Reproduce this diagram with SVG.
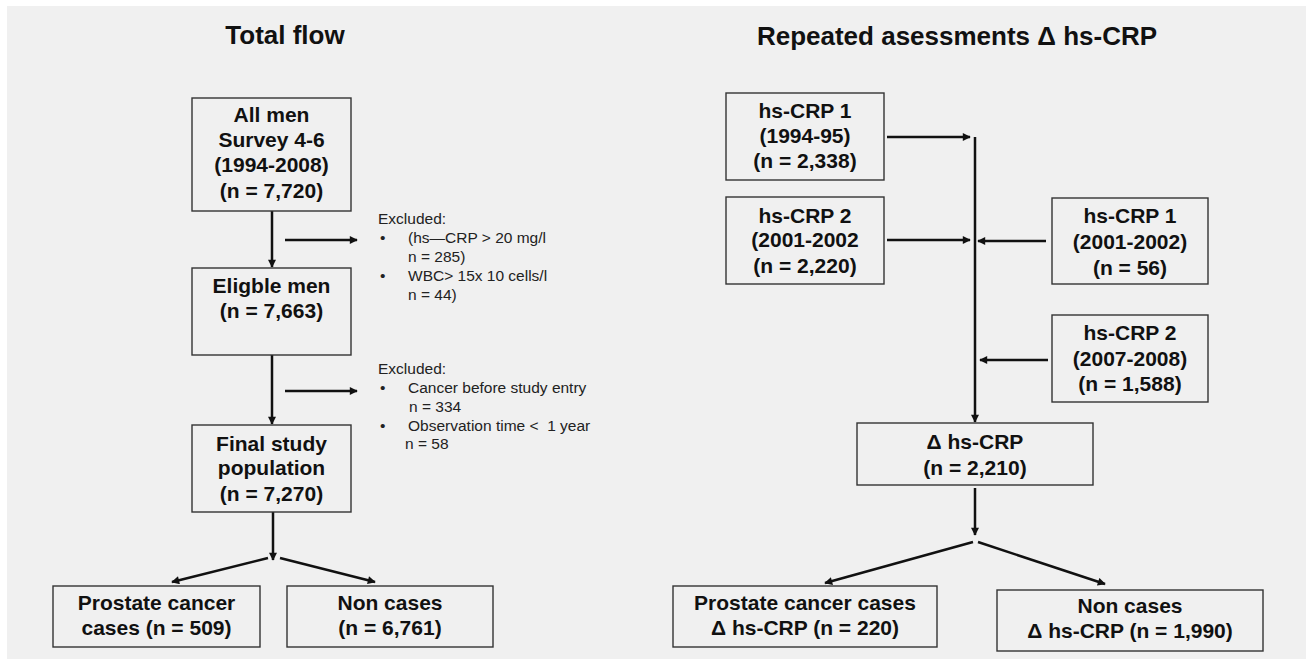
<svg xmlns="http://www.w3.org/2000/svg" width="1306" height="661" viewBox="0 0 1306 661">
<style>
.bg{fill:#f0f0f0}
.box{fill:none;stroke:#333;stroke-width:1.4}
.t{font-family:"Liberation Sans",Arial,sans-serif;font-weight:bold;font-size:21px;fill:#111;text-anchor:middle}
.title{font-family:"Liberation Sans",Arial,sans-serif;font-weight:bold;font-size:26px;fill:#111;text-anchor:middle}
.ex{font-family:"Liberation Sans",Arial,sans-serif;font-size:15.5px;fill:#222}
.ln{fill:none;stroke:#111;stroke-width:2.5}
</style>
<defs>
<marker id="ah" viewBox="0 0 10 10" refX="9" refY="5" markerUnits="userSpaceOnUse" markerWidth="9" markerHeight="8" orient="auto">
<path d="M0,0 L10,5 L0,10 z" fill="#111"/>
</marker>
</defs>
<rect x="0" y="0" width="1306" height="661" fill="#ffffff"/>
<rect class="bg" x="7" y="6" width="1299" height="653"/>

<text class="title" x="285" y="44">Total flow</text>
<text class="title" x="957" y="45">Repeated asessments Δ hs-CRP</text>

<g id="connectors">
<line class="ln" x1="272" y1="211" x2="272" y2="267" marker-end="url(#ah)"/>
<line class="ln" x1="285" y1="240" x2="357" y2="240" marker-end="url(#ah)"/>
<line class="ln" x1="272" y1="355" x2="272" y2="424" marker-end="url(#ah)"/>
<line class="ln" x1="285" y1="391" x2="357" y2="391" marker-end="url(#ah)"/>
<line class="ln" x1="273" y1="512" x2="273" y2="560" marker-end="url(#ah)"/>
<line class="ln" x1="268" y1="558" x2="172" y2="582" marker-end="url(#ah)"/>
<line class="ln" x1="280" y1="558" x2="375" y2="582" marker-end="url(#ah)"/>

<line class="ln" x1="887" y1="137" x2="970" y2="137" marker-end="url(#ah)"/>
<line class="ln" x1="887" y1="240" x2="970" y2="240" marker-end="url(#ah)"/>
<line class="ln" x1="1046" y1="241" x2="978" y2="241" marker-end="url(#ah)"/>
<line class="ln" x1="1048" y1="360" x2="980" y2="360" marker-end="url(#ah)"/>
<line class="ln" x1="975" y1="137" x2="975" y2="422" marker-end="url(#ah)"/>
<line class="ln" x1="975" y1="488" x2="975" y2="535" marker-end="url(#ah)"/>
<line class="ln" x1="973" y1="542" x2="825" y2="583" marker-end="url(#ah)"/>
<line class="ln" x1="978" y1="542" x2="1105" y2="584" marker-end="url(#ah)"/>
</g>

<g id="all-men">
<rect class="box" x="192" y="98" width="159" height="113"/>
<text class="t" x="271.5" y="122">All men</text>
<text class="t" x="271.5" y="147">Survey 4-6</text>
<text class="t" x="271.5" y="172">(1994-2008)</text>
<text class="t" x="271.5" y="198">(n = 7,720)</text>
</g>

<g id="excluded-1">
<text class="ex" x="378" y="224">Excluded:</text>
<text class="ex" x="380" y="243">•</text>
<text class="ex" x="408" y="243">(hs—CRP &gt; 20 mg/l</text>
<text class="ex" x="408" y="262">n = 285)</text>
<text class="ex" x="380" y="281">•</text>
<text class="ex" x="408" y="281">WBC&gt; 15x 10 cells/l</text>
<text class="ex" x="408" y="300">n = 44)</text>
</g>

<g id="eligible-men">
<rect class="box" x="192" y="268" width="159" height="87"/>
<text class="t" x="271.5" y="293">Eligble men</text>
<text class="t" x="271.5" y="318">(n = 7,663)</text>
</g>

<g id="excluded-2">
<text class="ex" x="378" y="374">Excluded:</text>
<text class="ex" x="380" y="393">•</text>
<text class="ex" x="408" y="393">Cancer before study entry</text>
<text class="ex" x="409" y="412">n = 334</text>
<text class="ex" x="380" y="431">•</text>
<text class="ex" x="408" y="431" xml:space="preserve">Observation time &lt;  1 year</text>
<text class="ex" x="405" y="449">n = 58</text>
</g>

<g id="final-study">
<rect class="box" x="192" y="425" width="159" height="87"/>
<text class="t" x="271.5" y="451">Final study</text>
<text class="t" x="271.5" y="475">population</text>
<text class="t" x="271.5" y="501">(n = 7,270)</text>
</g>

<g id="prostate-cases">
<rect class="box" x="53" y="586" width="207" height="61"/>
<text class="t" x="156.5" y="610">Prostate cancer</text>
<text class="t" x="156.5" y="635">cases (n = 509)</text>
</g>

<g id="non-cases">
<rect class="box" x="287" y="586" width="206" height="61"/>
<text class="t" x="390" y="610">Non cases</text>
<text class="t" x="390" y="635">(n = 6,761)</text>
</g>

<g id="hscrp1-9495">
<rect class="box" x="726" y="93" width="158" height="87"/>
<text class="t" x="805" y="118">hs-CRP 1</text>
<text class="t" x="805" y="143">(1994-95)</text>
<text class="t" x="805" y="168">(n = 2,338)</text>
</g>

<g id="hscrp2-0102">
<rect class="box" x="726" y="197" width="158" height="87"/>
<text class="t" x="805" y="223">hs-CRP 2</text>
<text class="t" x="805" y="247">(2001-2002</text>
<text class="t" x="805" y="273">(n = 2,220)</text>
</g>

<g id="hscrp1-0102">
<rect class="box" x="1052" y="198" width="156" height="86"/>
<text class="t" x="1130" y="223">hs-CRP 1</text>
<text class="t" x="1130" y="249">(2001-2002)</text>
<text class="t" x="1130" y="275">(n = 56)</text>
</g>

<g id="hscrp2-0708">
<rect class="box" x="1052" y="315" width="156" height="87"/>
<text class="t" x="1130" y="340">hs-CRP 2</text>
<text class="t" x="1130" y="366">(2007-2008)</text>
<text class="t" x="1130" y="391">(n = 1,588)</text>
</g>

<g id="delta-hscrp">
<rect class="box" x="857" y="423" width="236" height="62"/>
<text class="t" x="975" y="449">Δ hs-CRP</text>
<text class="t" x="975" y="475">(n = 2,210)</text>
</g>

<g id="delta-cases">
<rect class="box" x="673" y="586" width="264" height="61"/>
<text class="t" x="805" y="610">Prostate cancer cases</text>
<text class="t" x="805" y="635">Δ hs-CRP (n = 220)</text>
</g>

<g id="delta-non-cases">
<rect class="box" x="997" y="590" width="266" height="61"/>
<text class="t" x="1130" y="613">Non cases</text>
<text class="t" x="1130" y="638">Δ hs-CRP (n = 1,990)</text>
</g>
</svg>
